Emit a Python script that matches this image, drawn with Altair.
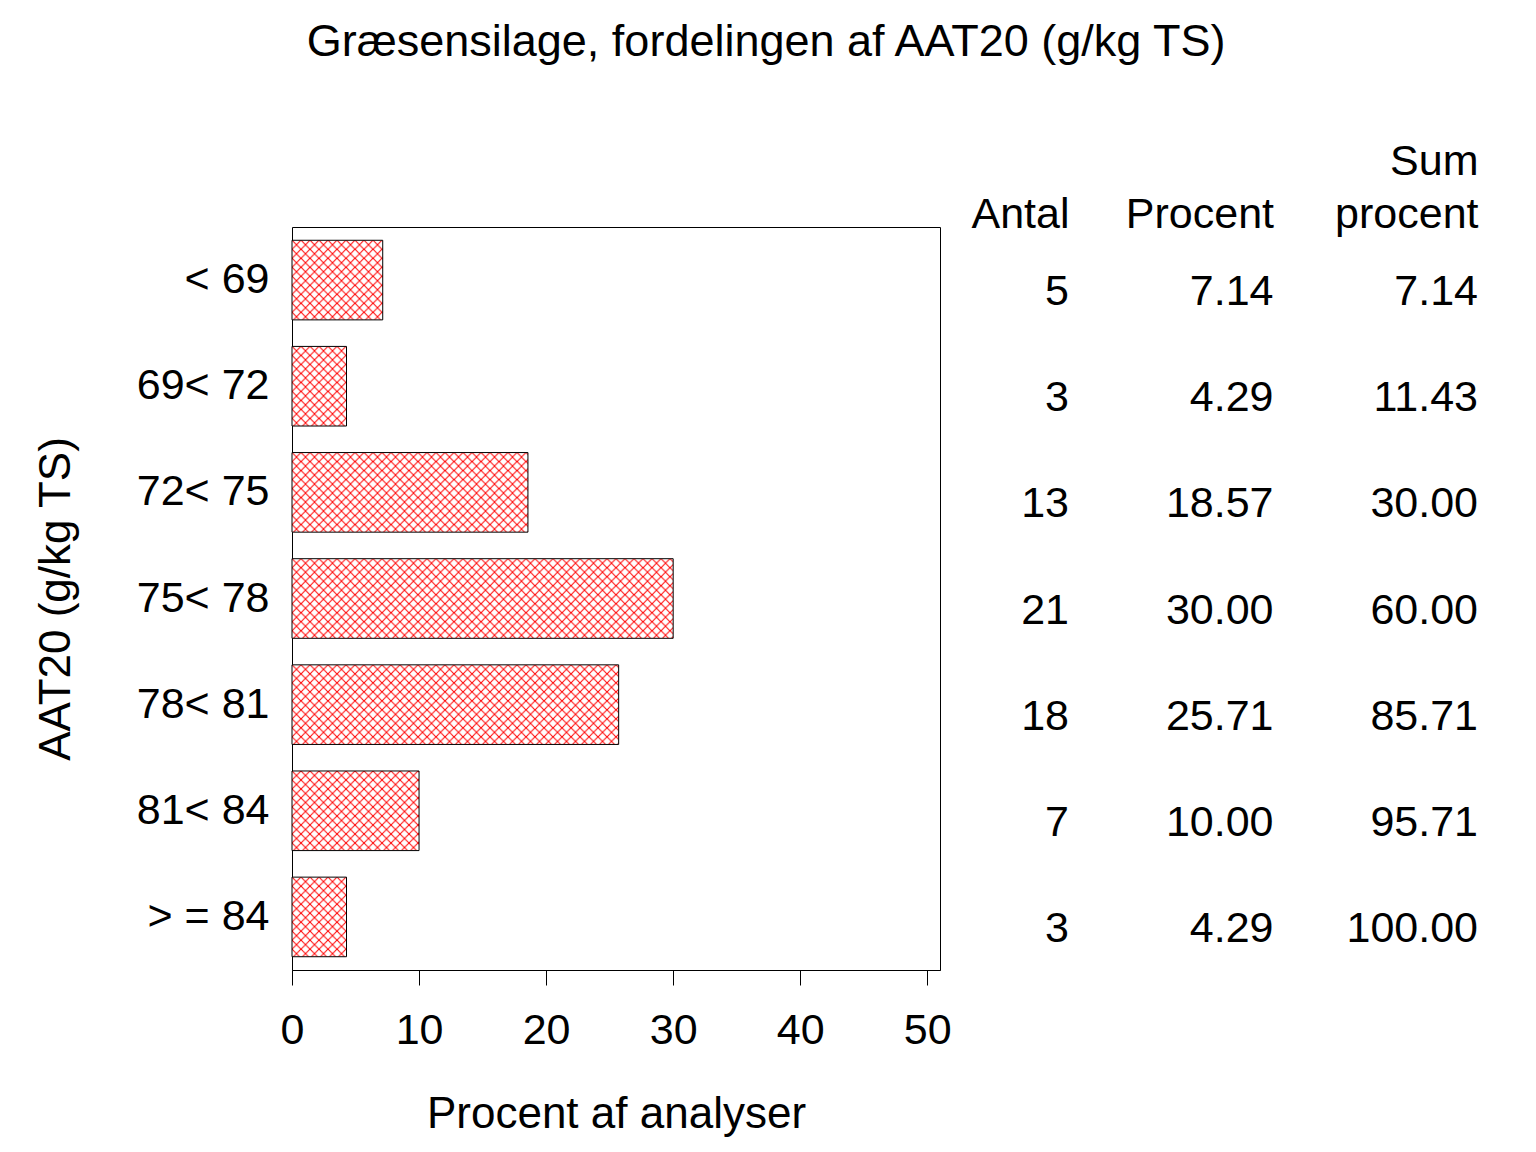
import altair as alt
import pandas as pd
from urllib.parse import quote

# ---- data ----
categories = ["< 69", "69< 72", "72< 75", "75< 78", "78< 81", "81< 84", "> = 84"]
antal = [5, 3, 13, 21, 18, 7, 3]
procent = [7.14, 4.29, 18.57, 30.00, 25.71, 10.00, 4.29]
sum_procent = [7.14, 11.43, 30.00, 60.00, 85.71, 95.71, 100.00]
x_ticks = [0, 10, 20, 30, 40, 50]
columns = ["Antal", "Procent", "Sum procent"]

df = pd.DataFrame({
    "kat": categories,
    "pct": procent,
    "Antal": antal,
    "Procent": procent,
    "Sum procent": sum_procent,
})

FONT = "Liberation Sans"
LFS = 43   # label font size
TFS = 44   # title font size

# red cross-hatch drawn as an image pattern (unscaled 9px tile)
hatch_svg = (
    '<svg xmlns="http://www.w3.org/2000/svg" width="100%" height="100%">'
    '<defs><pattern id="h" width="9" height="9" patternUnits="userSpaceOnUse">'
    '<path d="M0,0L9,9M9,0L0,9" stroke="#ff0000" stroke-width="1" fill="none"/>'
    '</pattern></defs><rect width="100%" height="100%" fill="url(#h)"/></svg>'
)
hatch_url = "data:image/svg+xml," + quote(hatch_svg)

yscale = alt.Scale(domain=categories, paddingInner=0.25, paddingOuter=0.125)

y_left = alt.Y(
    "kat:N", sort=categories, scale=yscale,
    axis=alt.Axis(title="AAT20 (g/kg TS)", ticks=False, domain=False,
                  labelPadding=23, titlePadding=58),
)
x_left = alt.X(
    "pct:Q", scale=alt.Scale(domain=[0, 51], nice=False, zero=True),
    axis=alt.Axis(values=x_ticks, title="Procent af analyser", grid=False,
                  tickSize=15, labelPadding=24, titlePadding=40, labelFlush=False,
                  domainColor="black", tickColor="black"),
)

base = alt.Chart(df)
bar_fill = base.mark_bar(color="white").encode(x=x_left, y=y_left)
bar_hatch = base.mark_image(aspect=False).encode(
    x="pct:Q", x2=alt.datum(0),
    y=alt.Y("kat:N", sort=categories),
    url=alt.value(hatch_url),
)
bar_outline = base.mark_bar(fillOpacity=0, stroke="black", strokeWidth=1).encode(
    x="pct:Q", y=alt.Y("kat:N", sort=categories)
)

left = alt.layer(bar_fill, bar_hatch, bar_outline).properties(
    width=648, height=743,
    view=alt.ViewBackground(stroke="black", strokeWidth=1),
)

# ---- table on the right ----
table = (
    alt.Chart(df)
    .transform_fold(columns, as_=["col", "val"])
    .transform_calculate(
        txt="datum.col == 'Antal' ? format(datum.val, 'd') : format(datum.val, '.2f')"
    )
    .mark_text(align="right", baseline="middle", dy=12, fontSize=LFS, font=FONT, color="black")
    .encode(
        x=alt.X(
            "col:N",
            scale=alt.Scale(type="point", domain=columns, range=[116, 525], padding=0),
            axis=alt.Axis(orient="top", title=None, domain=False, ticks=False, tickSize=0,
                          labelPadding=44, labelAlign="right", labelAngle=0,
                          labelBaseline="bottom", labelLineHeight=53,
                          labelExpr="datum.value == 'Sum procent' ? ['Sum', 'procent'] : ['', datum.value]"),
        ),
        y=alt.Y("kat:N", sort=categories, scale=yscale, axis=None),
        text="txt:N",
    )
    .properties(width=529, height=743,
                view=alt.ViewBackground(stroke="transparent"))
)

chart = (
    alt.hconcat(left, table, spacing=0)
    .properties(
        title=alt.TitleParams(
            "Græsensilage, fordelingen af AAT20 (g/kg TS)",
            fontSize=45, font=FONT, fontWeight="normal", color="black",
            anchor="middle", offset=75, dx=8,
        ),
        padding={"left": 25, "top": 11, "right": 5, "bottom": 0},
    )
    .configure_axis(
        labelFont=FONT, labelFontSize=LFS, labelColor="black",
        titleFont=FONT, titleFontSize=TFS, titleFontWeight="normal", titleColor="black",
    )
    .configure_view(stroke="black")
)

chart.save("out.html", embed_options={"renderer": "svg", "actions": False})
